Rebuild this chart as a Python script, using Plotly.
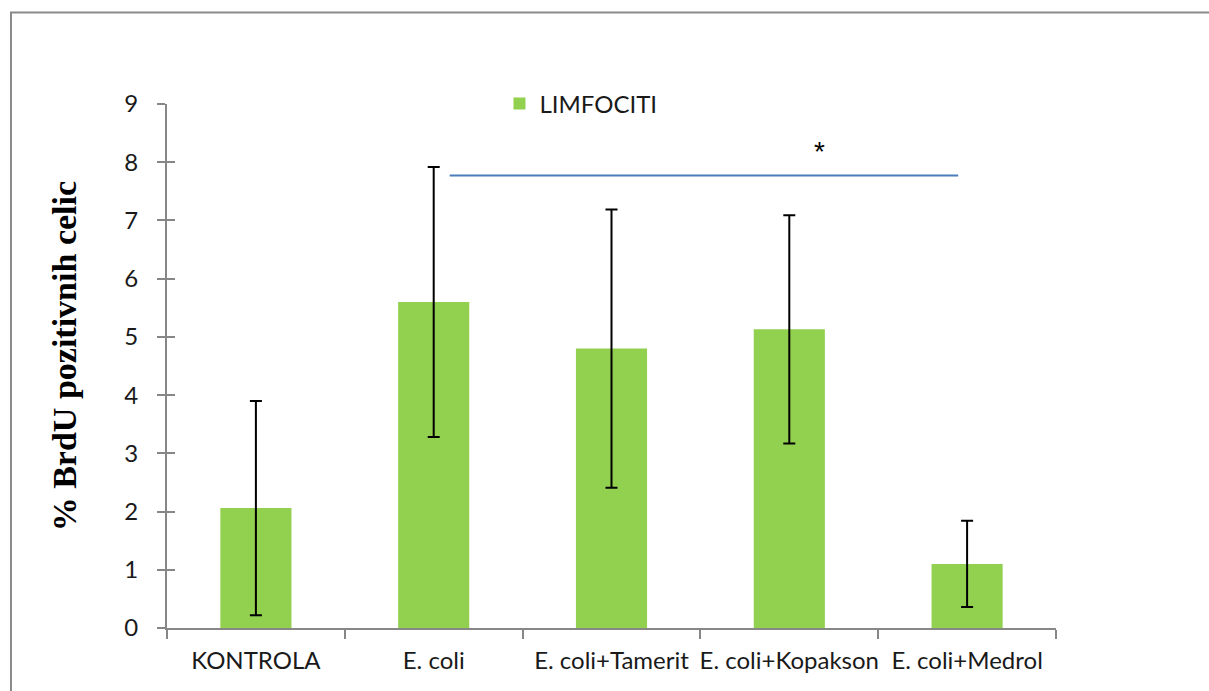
import plotly.graph_objects as go

# Groups and measured values
groups = ["KONTROLA", "E. coli", "E. coli+Tamerit", "E. coli+Kopakson", "E. coli+Medrol"]
brdu_mean = [2.06, 5.60, 4.80, 5.13, 1.10]
brdu_sd = [1.84, 2.32, 2.39, 1.96, 0.74]
series_name = "LIMFOCITI"

# Significance bracket between E. coli and E. coli+Medrol
sig_from = "E. coli"
sig_to = "E. coli+Medrol"
sig_level = 7.77
sig_mark = "*"

y_ticks = list(range(0, 10))

GREEN = "#92d050"
AXIS = "#878787"
TICK_FONT = dict(family="Lato, Open Sans, sans-serif", size=24, color="#1a1a1a")

fig = go.Figure()

fig.add_trace(go.Bar(
    x=groups, y=brdu_mean, name=series_name,
    marker=dict(color=GREEN, line=dict(width=0)),
    width=0.4,
    error_y=dict(type="data", array=brdu_sd, visible=True,
                 color="black", thickness=2, width=6),
))

# Empty trace so the overlay axis (inside tick halves) is drawn
fig.add_trace(go.Scatter(x=[], y=[], yaxis="y2", showlegend=False, hoverinfo="skip"))

# Significance line and star
i0, i1 = groups.index(sig_from), groups.index(sig_to)
fig.add_shape(type="line", xref="x", yref="y",
              x0=i0 + 0.09, x1=i1 - 0.05, y0=sig_level, y1=sig_level,
              line=dict(color="#4a7ebb", width=2))
fig.add_annotation(x=(i0 + i1) / 2 + 0.67, y=sig_level + 0.42, xref="x", yref="y",
                   text=sig_mark, showarrow=False,
                   font=dict(family="Liberation Sans, Arial", size=28, color="black"))

# Y-axis title
fig.add_annotation(x=-0.115, y=0.518, xref="paper", yref="paper",
                   text="<b>% BrdU pozitivnih celic</b>", textangle=-90,
                   showarrow=False, xanchor="center", yanchor="middle",
                   font=dict(family="Liberation Serif, Times New Roman, serif",
                             size=34, color="black"))

# Outer frame
fig.add_shape(type="rect", xref="paper", yref="paper",
              x0=-0.1755, x1=1.3, y0=-0.3, y1=1.1748,
              line=dict(color="#8a8a8a", width=2), layer="below")

fig.update_layout(
    width=1209, height=691,
    margin=dict(l=167, r=153, t=104, b=63),
    paper_bgcolor="white", plot_bgcolor="white",
    bargap=0.6,
    showlegend=True,
    legend=dict(x=0.374, y=1.0, xanchor="left", yanchor="middle",
                orientation="h", font=dict(family="Lato, Open Sans, sans-serif", size=24, color="#1a1a1a"),
                bgcolor="rgba(0,0,0,0)", itemwidth=30),
    xaxis=dict(
        type="category", tickson="boundaries", ticks="outside", ticklen=9,
        tickwidth=2, tickcolor=AXIS, showline=True, linecolor=AXIS, linewidth=2,
        showgrid=False, tickfont=TICK_FONT, range=[-0.5, 4.5],
        tickangle=0, automargin=False, ticklabelstandoff=10,
    ),
    yaxis=dict(
        range=[0, 9], tickvals=y_ticks, ticks="outside", ticklen=8, tickwidth=2,
        tickcolor=AXIS, showline=True, linecolor=AXIS, linewidth=2,
        showgrid=False, zeroline=False, tickfont=TICK_FONT, ticklabelstandoff=14,
        automargin=False,
    ),
    yaxis2=dict(
        overlaying="y", side="left", range=[0, 9], tickvals=y_ticks,
        ticks="inside", ticklen=8, tickwidth=2, tickcolor=AXIS,
        showticklabels=False, showline=False, showgrid=False, zeroline=False,
        automargin=False,
    ),
)

fig.write_html("out.html")
